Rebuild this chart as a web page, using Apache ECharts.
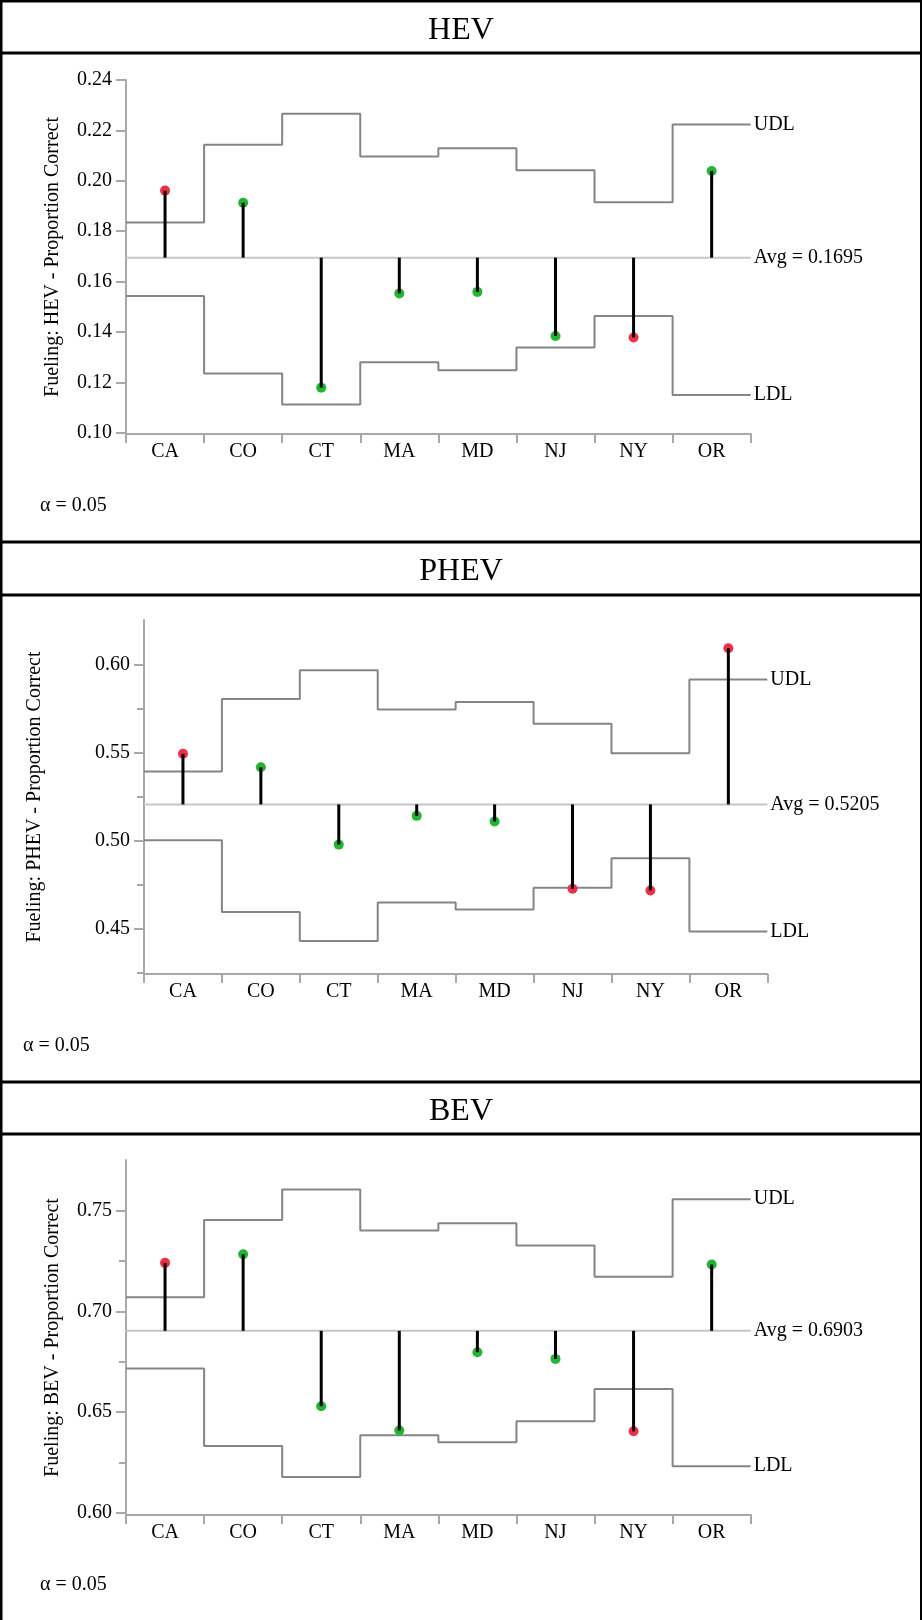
<!DOCTYPE html>
<html>
<head>
<meta charset="utf-8">
<script src="https://cdn.jsdelivr.net/npm/echarts@6/dist/echarts.min.js"></script>
<style>
  html, body { margin: 0; padding: 0; background: #fff; }
  #chart { width: 922px; height: 1620px; }
</style>
</head>
<body>
<div id="chart"></div>
<script>
// States on the x axis
const categories = ['CA', 'CO', 'CT', 'MA', 'MD', 'NJ', 'NY', 'OR'];

// HEV: proportion correct, decision limits, overall average
const hevValues = [0.1961, 0.1913, 0.1179, 0.1553, 0.1559, 0.1384, 0.1378, 0.2039];
const hevUDL    = [0.1834, 0.2143, 0.2266, 0.2096, 0.2129, 0.2042, 0.1915, 0.2223];
const hevLDL    = [0.1543, 0.1235, 0.1112, 0.1280, 0.1248, 0.1338, 0.1463, 0.1150];
const hevAvg    = 0.1695;
const hevTicks  = [0.10, 0.12, 0.14, 0.16, 0.18, 0.20, 0.22, 0.24];

// PHEV
const phevValues = [0.5492, 0.5416, 0.4977, 0.5140, 0.5108, 0.4727, 0.4717, 0.6091];
const phevUDL    = [0.5391, 0.5803, 0.5966, 0.5743, 0.5786, 0.5663, 0.5495, 0.5913];
const phevLDL    = [0.5001, 0.4594, 0.4430, 0.4649, 0.4609, 0.4732, 0.4900, 0.4484];
const phevAvg    = 0.5205;
const phevTicks  = [0.45, 0.50, 0.55, 0.60];
const phevMinor  = [0.425, 0.475, 0.525, 0.575];

// BEV
const bevValues = [0.7240, 0.7283, 0.6529, 0.6409, 0.6797, 0.6764, 0.6405, 0.7232];
const bevUDL    = [0.7070, 0.7452, 0.7604, 0.7401, 0.7437, 0.7326, 0.7171, 0.7556];
const bevLDL    = [0.6716, 0.6332, 0.6179, 0.6385, 0.6351, 0.6455, 0.6615, 0.6232];
const bevAvg    = 0.6903;
const bevTicks  = [0.60, 0.65, 0.70, 0.75];
const bevMinor  = [0.625, 0.675, 0.725];

const alphaText = 'α = 0.05';

const FONT = '"Liberation Serif", "Times New Roman", serif';
const AXIS_GRAY = '#a8a8a8';
const LIMIT_GRAY = '#858585';
const AVG_GRAY = '#c6c6c6';
const RED = '#ec3046';
const GREEN = '#22b530';

// Panel layout: frame band, title band, plot area
const panels = [
  { name: 'HEV', values: hevValues, udl: hevUDL, ldl: hevLDL, avg: hevAvg, ticks: hevTicks, minor: [],
    min: 0.0995, max: 0.24, frameTop: 0, titleBottom: 53, frameBottom: 541,
    grid: { left: 126, top: 80, width: 624.7, height: 354 }, nameGap: 63, alphaX: 40 },
  { name: 'PHEV', values: phevValues, udl: phevUDL, ldl: phevLDL, avg: phevAvg, ticks: phevTicks, minor: phevMinor,
    min: 0.4243, max: 0.6251, frameTop: 541, titleBottom: 595, frameBottom: 1081,
    grid: { left: 144, top: 620, width: 623.3, height: 354 }, nameGap: 99, alphaX: 23 },
  { name: 'BEV', values: bevValues, udl: bevUDL, ldl: bevLDL, avg: bevAvg, ticks: bevTicks, minor: bevMinor,
    min: 0.599, max: 0.775, frameTop: 1081, titleBottom: 1134, frameBottom: 1620,
    grid: { left: 126, top: 1160, width: 624.7, height: 355 }, nameGap: 63, alphaX: 40 }
];

const grids = [], xAxes = [], yAxes = [], series = [], graphics = [];

// Step path across the category bands for a limit series
function stepPoints(limits) {
  const pts = [];
  limits.forEach((v, i) => { pts.push([i, v]); pts.push([i + 1, v]); });
  return pts;
}

panels.forEach((p, gi) => {
  grids.push(Object.assign({ containLabel: false }, p.grid));

  // category axis: band ticks and state labels
  xAxes.push({
    type: 'category', gridIndex: gi, data: categories, boundaryGap: true, position: 'bottom',
    axisLine: { show: true, lineStyle: { color: AXIS_GRAY, width: 2 } },
    axisTick: { show: true, length: 9, alignWithLabel: false, lineStyle: { color: AXIS_GRAY, width: 2 } },
    axisLabel: { show: true, margin: 8, color: '#000', fontSize: 20, fontFamily: FONT },
    splitLine: { show: false }
  });
  // numeric x axis used to place limits, points and needles
  const valX = xAxes.length;
  xAxes.push({ type: 'value', gridIndex: gi, min: 0, max: 8, show: false });

  const mainY = yAxes.length;
  yAxes.push({
    type: 'value', gridIndex: gi, min: p.min, max: p.max,
    name: 'Fueling: ' + p.name + ' - Proportion Correct', nameLocation: 'middle', nameGap: p.nameGap,
    nameTextStyle: { color: '#000', fontSize: 20, fontFamily: FONT },
    axisLine: { show: true, lineStyle: { color: AXIS_GRAY, width: 2 } },
    axisTick: { show: true, length: 10, customValues: p.ticks, lineStyle: { color: AXIS_GRAY, width: 2 } },
    axisLabel: { show: true, margin: 14, customValues: p.ticks, color: '#000', fontSize: 20, fontFamily: FONT,
      formatter: v => v.toFixed(2) },
    splitLine: { show: false }
  });
  if (p.minor.length) {
    yAxes.push({
      type: 'value', gridIndex: gi, min: p.min, max: p.max, position: 'left',
      axisLine: { show: false },
      axisTick: { show: true, length: 7, customValues: p.minor, lineStyle: { color: AXIS_GRAY, width: 2 } },
      axisLabel: { show: false }, splitLine: { show: false }
    });
  }

  const endLabel = (text) => ({
    show: true, formatter: text, distance: 3, color: '#000', fontSize: 20, fontFamily: FONT
  });

  // average centre line
  series.push({
    type: 'line', xAxisIndex: valX, yAxisIndex: mainY, data: [[0, p.avg], [8, p.avg]],
    symbol: 'none', silent: true, z: 2,
    lineStyle: { color: AVG_GRAY, width: 2 },
    endLabel: endLabel('Avg = ' + p.avg.toFixed(4))
  });
  // upper and lower decision limits
  series.push({
    type: 'line', xAxisIndex: valX, yAxisIndex: mainY, data: stepPoints(p.udl),
    symbol: 'none', silent: true, z: 2,
    lineStyle: { color: LIMIT_GRAY, width: 2 }, endLabel: endLabel('UDL')
  });
  series.push({
    type: 'line', xAxisIndex: valX, yAxisIndex: mainY, data: stepPoints(p.ldl),
    symbol: 'none', silent: true, z: 2,
    lineStyle: { color: LIMIT_GRAY, width: 2 }, endLabel: endLabel('LDL')
  });

  const pts = p.values.map((v, i) => [i + 0.5, v, (v > p.udl[i] || v < p.ldl[i]) ? 1 : 0]);
  // group proportions
  series.push({
    type: 'scatter', xAxisIndex: valX, yAxisIndex: mainY, data: pts, symbol: 'circle', symbolSize: 10, z: 3,
    itemStyle: { color: params => params.data[2] ? RED : GREEN, opacity: 1 }
  });
  // needles from the average to each proportion
  const avg = p.avg;
  series.push({
    type: 'custom', xAxisIndex: valX, yAxisIndex: mainY, data: pts, z: 4,
    renderItem: (params, api) => {
      const a = api.coord([api.value(0), avg]);
      const b = api.coord([api.value(0), api.value(1)]);
      return { type: 'line', shape: { x1: a[0], y1: a[1], x2: b[0], y2: b[1] },
        style: { stroke: '#000', lineWidth: 3 } };
    }
  });

  // frame lines and panel texts
  graphics.push({ type: 'line', shape: { x1: 0, y1: p.frameTop + 1, x2: 922, y2: p.frameTop + 1 },
    style: { stroke: '#000', lineWidth: 3 } });
  graphics.push({ type: 'line', shape: { x1: 0, y1: p.titleBottom, x2: 922, y2: p.titleBottom },
    style: { stroke: '#000', lineWidth: 3 } });
  graphics.push({ type: 'text', x: 461, y: (p.frameTop + p.titleBottom) / 2 + 4,
    style: { text: p.name, font: '32px ' + FONT, fill: '#000', textAlign: 'center', textVerticalAlign: 'middle' } });
  graphics.push({ type: 'text', x: p.alphaX, y: p.frameBottom - 35,
    style: { text: alphaText, font: '20px ' + FONT, fill: '#000', textAlign: 'left', textVerticalAlign: 'middle' } });
});

// outer left and right edges
graphics.push({ type: 'line', shape: { x1: 1, y1: 0, x2: 1, y2: 1620 }, style: { stroke: '#000', lineWidth: 3 } });
graphics.push({ type: 'line', shape: { x1: 921, y1: 0, x2: 921, y2: 1620 }, style: { stroke: '#000', lineWidth: 2 } });

const chart = echarts.init(document.getElementById('chart'), null, { renderer: 'canvas' });
chart.setOption({
  animation: false,
  backgroundColor: '#fff',
  grid: grids,
  xAxis: xAxes,
  yAxis: yAxes,
  series: series,
  graphic: graphics
});
</script>
</body>
</html>
